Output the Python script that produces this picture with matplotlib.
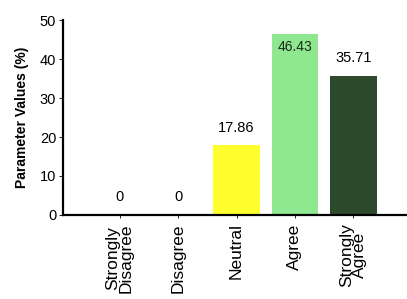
import matplotlib
matplotlib.use("Agg")
import matplotlib.pyplot as plt

plt.rcParams['font.family'] = ['Liberation Sans', 'DejaVu Sans']

categories = ['Strongly\nDisagree', 'Disagree', 'Neutral', 'Agree', 'Strongly\nAgree']
values = [0, 0, 17.86, 46.43, 35.71]
value_labels = ['0', '0', '17.86', '46.43', '35.71']
colors = ['#ffffff', '#ffffff', '#ffff2e', '#8fe88f', '#2e4a2c']

fig = plt.figure(figsize=(4.07, 2.99), dpi=100)
ax = fig.add_axes([0.155, 0.281, 0.845, 0.652])

x = range(len(categories))
ax.bar(x, values, width=0.8, color=colors)

for i, (v, lab) in enumerate(zip(values, value_labels)):
    if v + 4.5 > 48:
        # label sits inside the tall bar in the original
        ax.text(i, v - 3.3, lab, ha='center', va='center', fontsize=10, color='#1a2a1a')
    else:
        ax.text(i, v + 4.5, lab, ha='center', va='center', fontsize=10.5)

ax.set_xlim(-0.97, 4.92)
ax.set_ylim(0, 50)
ax.set_yticks([0, 10, 20, 30, 40, 50])
ax.set_xticks(list(x))
ax.set_xticklabels(categories, rotation=90, fontsize=12.5, linespacing=0.85)
ax.tick_params(axis='y', labelsize=10.5, length=3, width=0.6, pad=2)
ax.tick_params(axis='x', length=2, width=0.6, pad=4)

ax.spines['top'].set_visible(False)
ax.spines['right'].set_visible(False)
ax.spines['left'].set_linewidth(1.6)
ax.spines['bottom'].set_linewidth(1.6)

ax.set_ylabel('Parameter Values (%)', fontsize=10, fontweight='bold', labelpad=8)

plt.savefig('out.png', dpi=100)
